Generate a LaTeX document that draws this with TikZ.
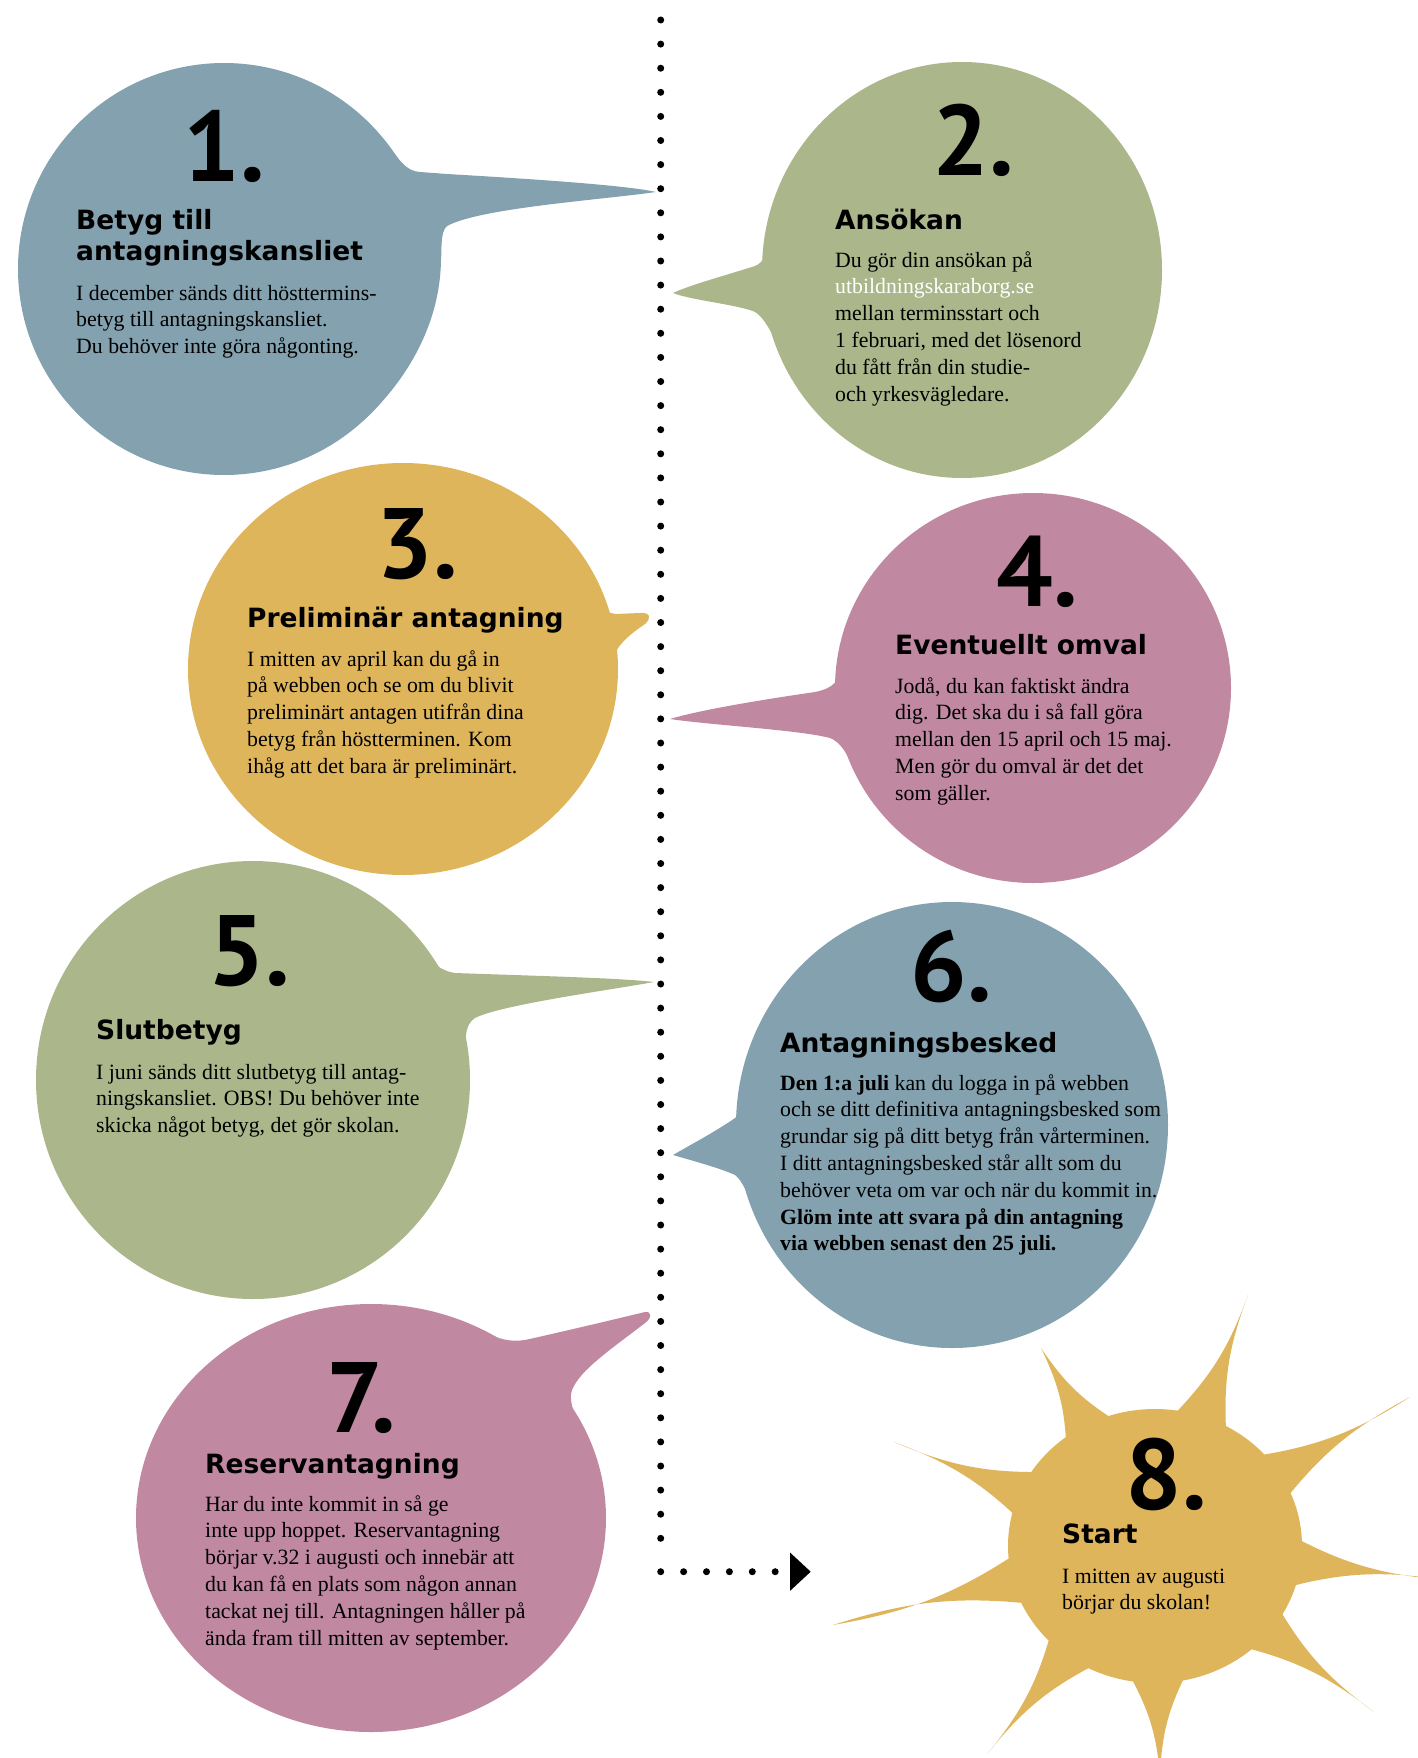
\documentclass[tikz,border=0pt]{standalone}
\usepackage{fontspec}
\setmainfont{Liberation Serif}
\newfontfamily\headfont{DejaVu Sans}
\newfontfamily\numfont{PT Sans}
\usetikzlibrary{calc,arrows.meta}
\definecolor{bluegrey}{HTML}{84A1AF}
\definecolor{sage}{HTML}{ABB68B}
\definecolor{mustard}{HTML}{DFB55C}
\definecolor{mauve}{HTML}{C188A2}

\begin{document}
\begin{tikzpicture}[x=1pt,y=-1pt, inner sep=0pt,
  num/.style={font=\numfont\bfseries\fontsize{100}{100}\selectfont},
  head/.style={anchor=base west, align=left, font=\headfont\bfseries\fontsize{26.5}{31}\selectfont},
  body/.style={anchor=base west, align=left, font=\fontsize{21.8}{26.8}\selectfont},
  dots/.style={line width=7pt, line cap=round, dash pattern=on 0pt off 24.1pt}]
\useasboundingbox (0,0) rectangle (1417,1758);

% bubble 1
\fill[bluegrey] (224,269) ellipse [x radius=206, y radius=206];
\fill[bluegrey] (384,140) .. controls (400,160) and (405,171) .. (420,172) -- (447,174)
  .. controls (550,180) and (630,186) .. (656,192) .. controls (600,200) and (480,208) .. (447,226)
  .. controls (440,232) and (442,250) .. (441,260) .. controls (440,330) and (401,386) .. (364,420)
  -- (300,300) -- cycle;
% bubble 2
\fill[sage] (962,270) ellipse [x radius=200, y radius=208];
\fill[sage] (770,240) .. controls (766,255) and (764,262) .. (755,266) .. controls (730,274) and (690,285) .. (673,293)
  .. controls (690,300) and (740,305) .. (755,312) .. controls (765,318) and (770,332) .. (782,350) -- (850,290) -- cycle;
% bubble 3
\fill[mustard] (403,669) ellipse [x radius=215, y radius=206];
\fill[mustard] (600,600) .. controls (605,610) and (608,613) .. (615,614) -- (640,613)
  .. controls (650,612) and (652,618) .. (645,624) .. controls (632,633) and (620,642) .. (614,655) -- (560,640) -- cycle;
% bubble 4
\fill[mauve] (1033,688) ellipse [x radius=198, y radius=195];
\fill[mauve] (845,660) .. controls (840,680) and (835,688) .. (815,692) .. controls (760,700) and (700,710) .. (670,719)
  .. controls (710,725) and (800,730) .. (830,738) .. controls (840,742) and (846,752) .. (852,765) -- (900,720) -- cycle;
% bubble 5
\fill[sage] (253,1080) ellipse [x radius=217, y radius=219];
\fill[sage] (404,930) .. controls (425,955) and (435,970) .. (455,973) .. controls (540,976) and (620,978) .. (654,982)
  .. controls (610,990) and (500,1005) .. (475,1018) .. controls (466,1024) and (465,1035) .. (466,1050) -- (400,1050) -- cycle;
% bubble 6
\fill[bluegrey] (952,1125) ellipse [x radius=216, y radius=223];
\fill[bluegrey] (750,1080) .. controls (748,1100) and (745,1110) .. (735,1118) .. controls (715,1132) and (690,1145) .. (673,1155)
  .. controls (690,1160) and (720,1168) .. (735,1175) .. controls (742,1180) and (748,1195) .. (758,1215) -- (820,1150) -- cycle;
% bubble 7
\fill[mauve] (371,1518) ellipse [x radius=235, y radius=214];
\fill[mauve] (480,1330) .. controls (500,1340) and (510,1342) .. (525,1340) .. controls (570,1330) and (620,1318) .. (645,1312)
  .. controls (652,1311) and (652,1318) .. (645,1323) .. controls (610,1350) and (580,1370) .. (572,1390)
  .. controls (568,1400) and (575,1420) .. (590,1450) -- (450,1450) -- cycle;
% sun
\coordinate (sun) at (1155,1546);
\fill[mustard] (sun) ellipse [x radius=147, y radius=137];
\foreach \x/\y in {1248/1295, 1041/1348, 1410/1397, 894/1442, 1445/1580, 833/1625, 1374/1712, 1160/1775, 988/1753}
  \fill[mustard] ($(sun)!130pt!13:(\x,\y)$) to[bend right=12] (\x,\y) to[bend right=12] ($(sun)!130pt!-13:(\x,\y)$) -- (sun) -- cycle;

% timeline
\coordinate (top) at (660.7,20);
\coordinate (low) at (660.7,1539.3);
\coordinate (bend) at (660.7,1571.7);
\coordinate (goal) at (810.7,1571.7);
\draw[dots] (top) -- (low);
\draw[dots, dash pattern=on 0pt off 22.9pt, -{Triangle[length=20.7pt,width=38.4pt,line width=0pt]}] (bend) -- (goal);

% texts (base = last line)
\node[num] (n1) at (224,146) {1.};
\node[head] (h1) at (76,260) {Betyg till\\antagningskansliet};
\node[body] (b1) at (76,353.6) {I december sänds ditt hösttermins-\\betyg till antagningskansliet.\\Du behöver inte göra någonting.};

\node[num] (n2) at (973,140) {2.};
\node[head] (h2) at (835,229) {Ansökan};
\node[body] (b2) at (835,401) {Du gör din ansökan på\\{\color{white}utbildningskaraborg.se}\\mellan terminsstart och\\1 februari, med det lösenord\\du fått från din studie-\\och yrkesvägledare.};

\node[num] (n3) at (417,544) {3.};
\node[head] (h3) at (247,627) {Preliminär antagning};
\node[body] (b3) at (247,773.2) {I mitten av april kan du gå in\\på webben och se om du blivit\\preliminärt antagen utifrån dina\\betyg från höstterminen. Kom\\ihåg att det bara är preliminärt.};

\node[num] (n4) at (1037,572) {4.};
\node[head] (h4) at (895,654) {Eventuellt omval};
\node[body] (b4) at (895,800.2) {Jodå, du kan faktiskt ändra\\dig. Det ska du i så fall göra\\mellan den 15 april och 15 maj.\\Men gör du omval är det det\\som gäller.};

\node[num] (n5) at (249,951) {5.};
\node[head] (h5) at (96,1039) {Slutbetyg};
\node[body] (b5) at (96,1132.6) {I juni sänds ditt slutbetyg till antag-\\ningskansliet. OBS! Du behöver inte\\skicka något betyg, det gör skolan.};

\node[num] (n6) at (951,966) {6.};
\node[head] (h6) at (780,1052) {Antagningsbesked};
\node[body] (b6) at (780,1250.8) {\textbf{Den 1:a juli} kan du logga in på webben\\och se ditt definitiva antagningsbesked som\\grundar sig på ditt betyg från vårterminen.\\I ditt antagningsbesked står allt som du\\behöver veta om var och när du kommit in.\\\textbf{Glöm inte att svara på din antagning}\\\textbf{via webben senast den 25 juli.}};

\node[num] (n7) at (361,1398) {7.};
\node[head] (h7) at (205,1473) {Reservantagning};
\node[body] (b7) at (205,1645) {Har du inte kommit in så ge\\inte upp hoppet. Reservantagning\\börjar v.32 i augusti och innebär att\\du kan få en plats som någon annan\\tackat nej till. Antagningen håller på\\ända fram till mitten av september.};

\node[num] (n8) at (1166,1474) {8.};
\node[head] (h8) at (1062,1543) {Start};
\node[body] (b8) at (1062,1609.8) {I mitten av augusti\\börjar du skolan!};
\end{tikzpicture}
\end{document}
